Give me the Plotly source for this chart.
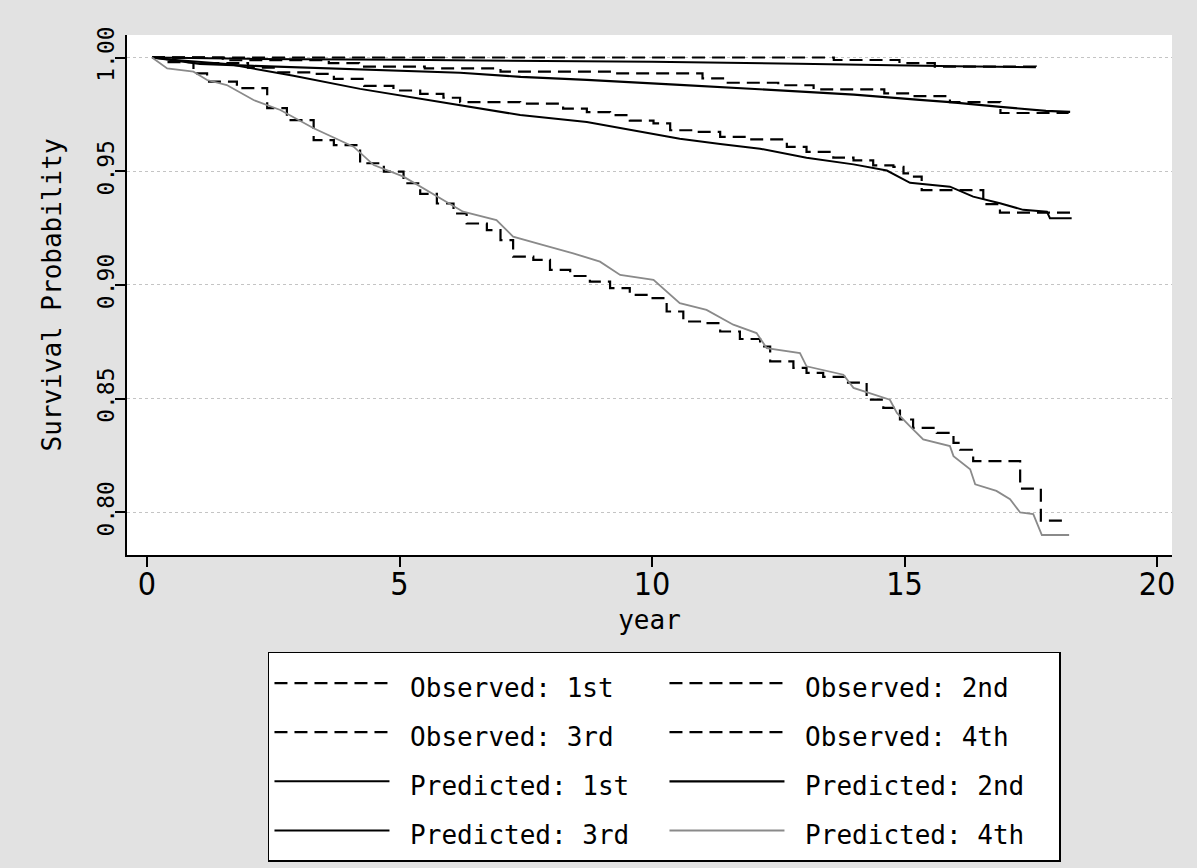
import plotly.graph_objects as go

# ---------------- data ----------------
obs1_x = [0.1, 13.6, 14.9, 15.6, 17.6]
obs1_y = [1.0000, 0.9989, 0.9975, 0.9960, 0.9955]

obs2_x = [0.1, 1.5, 3.6, 4.2, 5.5, 7.0, 9.2, 11.0, 11.5, 12.5, 13.2, 14.6, 15.2, 15.9, 16.9, 18.25]
obs2_y = [1.0000, 0.9988, 0.9975, 0.9960, 0.9952, 0.9938, 0.9930, 0.9908, 0.9889, 0.9878, 0.9860,
          0.9842, 0.9830, 0.9804, 0.9756, 0.9756]

obs3_x = [0.1, 1.2, 2.0, 2.6, 3.3, 3.7, 4.3, 4.88, 5.41, 5.87, 6.2, 7.39, 8.24, 8.71, 9.17, 9.56,
          10.03, 10.36, 10.88, 11.35, 11.87, 12.67, 13.06, 13.59, 13.99, 14.38, 14.78, 14.98,
          15.11, 15.34, 16.56, 16.89, 18.3]
obs3_y = [1.0000, 0.9975, 0.9955, 0.9935, 0.9928, 0.9906, 0.9875, 0.9855, 0.9840, 0.9823, 0.9804,
          0.9797, 0.9775, 0.9760, 0.9747, 0.9722, 0.9710, 0.9680, 0.9673, 0.9651, 0.9640, 0.9607,
          0.9585, 0.9560, 0.9548, 0.9526, 0.9519, 0.9490, 0.9476, 0.9417, 0.9355, 0.9318, 0.9318]

obs4_x = [0.1, 0.4, 0.92, 1.19, 1.78, 2.38, 2.77, 3.30, 3.70, 4.22, 4.69, 5.08, 5.41, 5.74, 6.07,
          6.33, 6.73, 7.0, 7.25, 7.65, 7.98, 8.38, 8.77, 9.17, 9.56, 9.96, 10.29, 10.62, 11.02,
          11.35, 11.74, 12.14, 12.34, 12.80, 13.06, 13.39, 13.85, 14.25, 14.58, 14.91, 15.17,
          15.64, 15.97, 16.1, 16.36, 17.29, 17.70, 18.15]
obs4_y = [1.0000, 0.9980, 0.9930, 0.9894, 0.9865, 0.9777, 0.9725, 0.9637, 0.9615, 0.9535, 0.9498,
          0.9447, 0.9400, 0.9358, 0.9314, 0.9270, 0.9241, 0.9197, 0.9124, 0.9110, 0.9066, 0.9039,
          0.9014, 0.8986, 0.8956, 0.8942, 0.8883, 0.8839, 0.8832, 0.8795, 0.8762, 0.8729, 0.8664,
          0.8635, 0.8613, 0.8595, 0.8570, 0.8495, 0.8459, 0.8408, 0.8371, 0.8349, 0.8305, 0.8275,
          0.8225, 0.8104, 0.7963, 0.7963]

pred1_x = [0.1, 2.0, 5.0, 7.4, 10.0, 12.9, 14.9, 16.0, 17.6]
pred1_y = [1.0000, 0.9994, 0.9990, 0.9986, 0.9981, 0.9973, 0.9968, 0.9962, 0.9957]

pred2_x = [0.1, 1.05, 2.1, 3.56, 4.88, 6.2, 7.4, 8.71, 10.55, 12.27, 13.06, 14.0, 15.3, 15.9,
           16.9, 17.8, 18.28]
pred2_y = [1.0000, 0.9972, 0.9963, 0.9953, 0.9942, 0.9933, 0.9915, 0.9902, 0.9880, 0.9859, 0.9848,
           0.9837, 0.9814, 0.9804, 0.9783, 0.9765, 0.9761]

pred3_x = [0.1, 0.5, 1.58, 2.9, 4.22, 5.54, 6.2, 7.39, 8.71, 9.37, 10.55, 11.35, 12.14, 13.06,
           13.99, 14.65, 15.11, 15.9, 16.36, 16.89, 17.35, 17.82, 17.88, 18.31]
pred3_y = [1.0000, 0.9990, 0.9972, 0.9920, 0.9862, 0.9813, 0.9791, 0.9747, 0.9716, 0.9691, 0.9643,
           0.9620, 0.9599, 0.9559, 0.9530, 0.9503, 0.9449, 0.9432, 0.9388, 0.9359, 0.9330, 0.9322,
           0.9293, 0.9293]

pred4_x = [0.1, 0.40, 0.92, 1.19, 1.58, 2.11, 2.64, 3.30, 4.09, 4.49, 5.08, 5.67, 6.26, 6.92,
           7.25, 7.85, 8.44, 8.97, 9.37, 10.03, 10.55, 11.08, 11.61, 12.07, 12.27, 12.93, 13.06,
           13.79, 13.99, 14.71, 14.85, 15.11, 15.37, 15.90, 15.97, 16.30, 16.40, 16.82, 17.09,
           17.29, 17.55, 17.72, 18.26]
pred4_y = [1.0000, 0.9952, 0.9938, 0.9901, 0.9879, 0.9813, 0.9769, 0.9689, 0.9608, 0.9527, 0.9476,
           0.9400, 0.9322, 0.9285, 0.9212, 0.9175, 0.9139, 0.9102, 0.9044, 0.9022, 0.8920, 0.8890,
           0.8825, 0.8788, 0.8722, 0.8700, 0.8642, 0.8605, 0.8547, 0.8495, 0.8437, 0.8378, 0.8320,
           0.8291, 0.8247, 0.8189, 0.8123, 0.8094, 0.8057, 0.7999, 0.7992, 0.7900, 0.7900]

x_ticks = [0, 5, 10, 15, 20]
y_ticks = [0.80, 0.85, 0.90, 0.95, 1.00]
y_tick_labels = ["0.80", "0.85", "0.90", "0.95", "1.00"]
names = ["Observed: 1st", "Observed: 2nd", "Observed: 3rd", "Observed: 4th",
         "Predicted: 1st", "Predicted: 2nd", "Predicted: 3rd", "Predicted: 4th"]

FONT = "DejaVu Sans Mono"
NARROW = "Liberation Sans Narrow, DejaVu Sans Condensed, DejaVu Sans Mono"
DASH = "13px,7px"


def lab(s):
    return '<span style="font-size:26px">\u00a0' + s + '</span>'


series = [
    (obs1_x, obs1_y, names[0], "black", 2.2, DASH, "hv"),
    (obs2_x, obs2_y, names[1], "black", 2.2, DASH, "hv"),
    (obs3_x, obs3_y, names[2], "black", 2.2, DASH, "hv"),
    (obs4_x, obs4_y, names[3], "black", 2.2, DASH, "hv"),
    (pred1_x, pred1_y, names[4], "black", 2.0, "solid", "linear"),
    (pred2_x, pred2_y, names[5], "black", 2.2, "solid", "linear"),
    (pred3_x, pred3_y, names[6], "black", 2.0, "solid", "linear"),
    (pred4_x, pred4_y, names[7], "#8a8a8a", 1.8, "solid", "linear"),
]

fig = go.Figure()
for xs, ys, nm, col, w, dash, shape in series:
    fig.add_trace(go.Scatter(
        x=xs, y=ys, name=lab(nm), mode="lines",
        line=dict(color=col, width=w, dash=dash, shape=shape),
    ))

fig.update_layout(
    width=1197, height=868,
    margin=dict(l=127, r=25, t=35, b=313, autoexpand=False),
    paper_bgcolor="#e2e2e2",
    plot_bgcolor="white",
    font=dict(family=FONT, color="black", size=24),
    showlegend=True,
    legend=dict(
        orientation="h",
        x=0.1349, xanchor="left",
        y=-0.1865, yanchor="top",
        bgcolor="white", bordercolor="black", borderwidth=1.5,
        font=dict(family=FONT, size=35.5, color="black"),
        itemwidth=115,
        entrywidth=265, entrywidthmode="pixels",
        traceorder="normal",
    ),
)

fig.update_xaxes(
    range=[-0.396, 20.297],
    tickmode="array", tickvals=x_ticks,
    ticks="outside", ticklen=10, tickwidth=2, tickcolor="black",
    showline=True, linecolor="black", linewidth=2,
    showgrid=False, zeroline=False,
    tickfont=dict(family=NARROW, size=32),
    ticklabelstandoff=-10,
    title=dict(text="year", font=dict(family=FONT, size=26), standoff=8),
)
fig.update_yaxes(
    range=[0.7812, 1.0099],
    tickmode="array", tickvals=y_ticks, ticktext=y_tick_labels,
    tickangle=-90,
    ticks="outside", ticklen=10, tickwidth=2, tickcolor="black",
    showline=True, linecolor="black", linewidth=2,
    showgrid=True, gridcolor="#c4c4c4", griddash="dot", gridwidth=1,
    zeroline=False,
    tickfont=dict(family=FONT, size=23),
    ticklabelstandoff=-8,
    title=dict(text="Survival Probability", font=dict(family=FONT, size=26), standoff=24),
)

fig.write_html("out.html")
